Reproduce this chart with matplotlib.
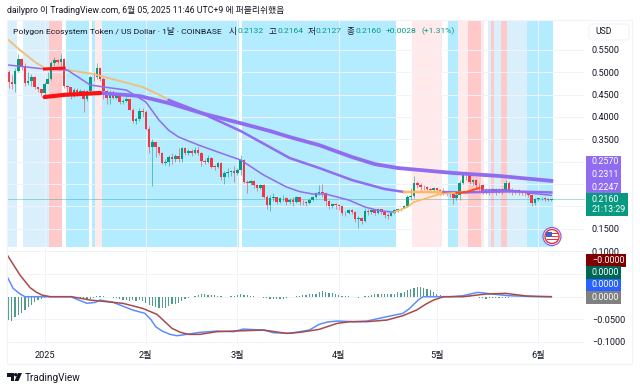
"""POL / USD daily chart with moving averages and a MACD pane."""
import matplotlib
matplotlib.use("Agg")
import matplotlib.pyplot as plt
import numpy as np
from matplotlib.patches import Circle, FancyBboxPatch, Polygon, Rectangle

FONT = ["Roboto", "Noto Sans CJK KR", "DejaVu Sans"]
plt.rcParams["font.family"] = FONT

FIRST_DAY = -11  # days relative to 2025-01-01
FIRST_OPEN = 0.501

closes = [
    .478, .473, .503, .530, .515, .477, .481, .490, .466, .463,
    .453, .474, .486, .520, .527, .524, .529, .470, .466, .451,
    .461, .456, .459, .440, .457, .490, .489, .509, .486, .457,
    .442, .455, .443, .449, .433, .436, .440, .416, .391, .395,
    .414, .410, .374, .333, .345, .333, .320, .298, .300, .310,
    .305, .313, .306, .331, .319, .324, .319, .326, .320, .302,
    .300, .309, .289, .288, .298, .266, .274, .277, .278, .274,
    .281, .304, .255, .253, .257, .248, .240, .2475, .220, .203,
    .218, .221, .210, .218, .219, .210, .2135, .210, .220, .210,
    .209, .207, .214, .220, .229, .231, .230, .213, .201, .205,
    .202, .200, .185, .184, .192, .188, .171, .173, .167, .190,
    .187, .192, .184, .193, .188, .181, .179, .185, .192, .193,
    .194, .201, .222, .224, .252, .248, .244, .2425, .238, .236,
    .240, .236, .233, .232, .230, .2285, .218, .226, .252, .271,
    .273, .255, .258, .248, .2475, .233, .236, .231, .238, .233,
    .238, .234, .2515, .236, .233, .236, .231, .230, .229, .226,
    .207, .216, .218, .2195, .216, .2132, .2160,
]
highs = [
    .505, .495, .510, .542, .533, .520, .500, .497, .492, .468,
    .462, .478, .500, .525, .535, .530, .540, .533, .472, .468,
    .465, .465, .462, .462, .460, .495, .500, .520, .512, .490,
    .460, .460, .460, .453, .450, .440, .445, .440, .420, .400,
    .420, .420, .415, .380, .350, .345, .328, .322, .305, .315,
    .320, .318, .330, .333, .333, .328, .328, .332, .335, .322,
    .305, .314, .310, .292, .300, .300, .278, .285, .282, .290,
    .285, .315, .306, .260, .260, .258, .250, .250, .250, .225,
    .225, .230, .222, .222, .225, .220, .218, .220, .223, .222,
    .214, .213, .218, .224, .232, .248, .250, .232, .215, .208,
    .208, .206, .200, .190, .195, .194, .189, .178, .176, .197,
    .193, .195, .195, .196, .195, .189, .184, .188, .194, .196,
    .197, .204, .226, .240, .268, .256, .252, .248, .246, .242,
    .244, .242, .238, .240, .235, .234, .232, .234, .260, .276,
    .278, .276, .262, .262, .252, .248, .240, .240, .242, .240,
    .242, .240, .258, .256, .240, .238, .238, .234, .232, .230,
    .228, .218, .220, .222, .222, .219, .2164,
]
lows = [
    .465, .462, .455, .500, .505, .470, .472, .470, .463, .455,
    .447, .445, .475, .482, .515, .518, .515, .465, .448, .440,
    .445, .448, .450, .412, .435, .455, .480, .485, .480, .440,
    .430, .430, .440, .440, .430, .430, .434, .415, .386, .385,
    .390, .400, .370, .320, .246, .310, .315, .295, .292, .290,
    .295, .300, .300, .300, .315, .316, .312, .318, .315, .290,
    .295, .298, .285, .282, .285, .260, .250, .265, .268, .255,
    .270, .270, .253, .230, .248, .240, .235, .238, .218, .195,
    .190, .212, .205, .208, .212, .204, .206, .200, .207, .202,
    .204, .200, .205, .212, .218, .225, .222, .200, .195, .196,
    .195, .192, .180, .178, .183, .182, .165, .152, .160, .165,
    .180, .183, .180, .183, .183, .175, .172, .178, .183, .187,
    .190, .196, .198, .215, .218, .240, .236, .236, .232, .230,
    .232, .228, .226, .226, .224, .222, .205, .214, .215, .250,
    .258, .250, .248, .240, .235, .228, .228, .225, .230, .226,
    .230, .228, .232, .230, .226, .228, .226, .225, .224, .220,
    .200, .203, .212, .214, .213, .212, .2127,
]
macd_hist = [
    -.0516, -.054, -.0442, -.0398, -.0368, -.0295, -.0236, -.0177, -.0118, -.008,
    -.0052, -.003, -.0015, -.0005, -.0005, -.0005, -.0005, -.0005, -.0005, -.0005,
    -.001, -.002, -.004, -.006, -.007, -.005, -.002, .001, .002, .001,
    .0003, -.001, -.002, -.003, -.005, -.0065, -.008, -.009, -.008, -.009,
    -.008, -.010, -.014, -.018, -.021, -.023, -.025, -.024, -.024, -.021,
    -.016, -.016, -.013, -.009, -.006, -.003, -.001, .002, .004, .005,
    .005, .004, .004, .003, .002, .001, .0003, -.001, .001, .002,
    .004, .005, .004, .003, .002, .001, .0003, -.001, -.002, -.003,
    -.005, -.006, -.006, -.005, -.004, -.003, -.001, .0003, .001, .002,
    .003, .004, .005, .006, .007, .011, .012, .011, .009, .008,
    .006, .004, .002, .001, .0005, -.0005, -.001, -.002, -.001, .001,
    .002, .004, .005, .005, .005, .005, .005, .006, .007, .010,
    .008, .010, .014, .018, .020, .021, .021, .020, .018, .014,
    .011, .007, .004, .001, .0005, .0005, .001, .002, .002, .003,
    .002, .001, -.0005, -.001, -.002, -.003, -.004, -.003, -.003, -.002,
    -.002, -.003, -.002, -.002, -.001, -.001, -.001, -.001, -.0005, -.0005,
    -.0005, -.0005, -.0003, -.0003, -.0003, -.0002, -.0002,
]

long_red_days = [0, 6, 17]
long_red = [.4446, .4495, .4536]
long_days = [17, 29, 38, 49, 60, 69, 75, 84, 94, 101, 108, 125, 139, 155]
long_ma = [.4536, .447, .431, .4066, .386, .3685, .355, .337, .3104, .2945, .2858, .2746, .268, .2570]

mid_tan_days = [-11, -7.5, -3, 0, 7, 15, 30, 35, 38]
mid_tan = [.572, .5498, .5235, .5095, .505, .496, .467, .450, .438]
mid_days = [38, 46, 60, 75, 84, 94, 104, 110]
mid_ma = [.438, .4155, .3685, .308, .2858, .2589, .2388, .2321]
mid_orange_days = [110, 122]
mid_orange = [.2321, .232]
mid_end_days = [122, 128, 142, 155]
mid_end = [.232, .231, .2335, .2311]

fast_days = [-11, 0, 7, 14, 20, 25, 31, 35, 38, 41, 47, 53, 60, 67, 74, 78, 82, 86, 93, 98, 102, 106, 107]
fast_ma = [.5162, .5073, .505, .4715, .4652, .4604, .4334, .3932, .3700, .3552, .3375, .3216, .3037,
           .2701, .2433, .2330, .2276, .2276, .2142, .1985, .1910, .1873, .1873]
fast_red_days = [0, 6]
fast_red = [.5073, .5095]
fast_orange_days = [107, 111, 113, 118, 121, 125, 128]
fast_orange = [.1873, .1985, .2097, .2209, .2276, .2299, .2321]
fast_red2_days = [126, 129, 133]
fast_red2 = [.2299, .2321, .2411]
fast_end_days = [134, 142, 148, 155]
fast_end = [.2366, .2366, .2299, .2247]

macd_days = [-11.4, -9.6, -7.5, -6, 8, 10.5, 13, 15.5, 17, 21, 27, 30.7, 32.5, 34, 36, 38.4,
             40.5, 43.5, 47.5, 52.7, 57.8, 60.8, 64, 67, 70, 75, 81, 84, 86.5, 89.5, 94.4,
             98.6, 104.7, 109.6, 111.5, 112.7, 114.5, 115.8, 124, 128, 130.5, 132.6, 137, 142,
             150.5, 155]
macd_line = [.0442, .0184, .0062, 0, 0, -.0075, -.0147, -.0125, -.0074, -.0125, -.0295, -.0368,
             -.0500, -.0663, -.0760, -.0832, -.0862, -.0832, -.0788, -.0759, -.0773, -.0715,
             -.0728, -.0737, -.0796, -.081, -.0737, -.0611, -.0560, -.0538, -.0552, -.0538,
             -.0442, -.0368, -.0270, -.0184, -.0060, 0, 0, .0022, .0065, .0096, .0059, .0022,
             0, 0]
signal_days = [-11.4, -7.5, -4.4, -2.5, -.8, 1.7, 8.3, 14, 24, 30, 34.4, 39, 41.5, 44, 47.5, 52.7,
               57.8, 67, 74, 78, 84, 89.5, 93.4, 98.6, 104.7, 109.6, 113.8, 116.5, 119, 122, 128,
               135, 141, 147.5, 155]
signal_line = [.0921, .0479, .0199, .0100, .0037, 0, 0, -.0074, -.0147, -.0258, -.039, -.07, -.0785,
               -.0832, -.0832, -.0773, -.0759, -.0737, -.081, -.0788, -.0722, -.0589, -.0552,
               -.0552, -.0516, -.042, -.0295, -.0170, -.0074, 0, 0, .0059, .0074, .0015, 0]

SKY, PALE, PINK, RED_BAND = "#b3ebff", "#d9effc", "#ffe9eb", "#ffc9c9"
bands = [
    (-11.5, -8.5, PALE), (-6.5, 1.5, PALE), (1.5, 5.5, RED_BAND), (6.5, 13.5, SKY),
    (14.5, 15.5, SKY), (15.5, 17.5, PINK), (17.5, 59.5, SKY), (60.5, 107.5, SKY),
    (112.5, 121.5, PINK), (123.5, 126.5, SKY), (126.5, 129.5, PINK), (129.5, 133.5, RED_BAND),
    (133.5, 134.5, PINK), (135.5, 136.5, PALE), (136.5, 137.5, RED_BAND), (137.5, 139.5, PALE),
    (139.5, 141.5, RED_BAND), (141.5, 147.5, PALE), (147.5, 155.5, SKY),
]

price_ticks = [.55, .50, .45, .40, .35, .30, .25, .20, .15]
price_labels = ["0.5500", "0.5000", "0.4500", "0.4000", "0.3500", "", "", "", "0.1500"]
macd_ticks = [.10, .05, 0, -.05, -.10]
macd_labels = ["0.1000", "", "", "−0.0500", "−0.1000"]
month_days = [0, 31, 59, 90, 120, 151]
month_labels = ["2025", "2월", "3월", "4월", "5월", "6월"]
UP, DOWN = "#089981", "#f23645"
TEXT = "#131722"
W, H = 640, 390


def px_axes(fig, left, top, right, bottom):
    return fig.add_axes([left / W, 1 - bottom / H, (right - left) / W, (bottom - top) / H])


def main():
    fig = plt.figure(figsize=(6.4, 3.9), dpi=100)
    ax = px_axes(fig, 7, 20, 585, 247)
    ax2 = px_axes(fig, 7, 248, 585, 344)

    for a in (ax, ax2):
        a.set_xlim(-11.47, 165.3)
        a.set_xticks(month_days)
        a.grid(color="#f0f3fa", lw=0.7)
        a.set_axisbelow(True)
        a.tick_params(length=0, labelsize=6.6, colors=TEXT)
        a.yaxis.tick_right()
        for s in a.spines.values():
            s.set_visible(False)

    # price pane
    ax.set_ylim(0.1090, 0.6170)
    ax.set_yticks(price_ticks)
    ax.set_yticklabels(price_labels)
    ax.tick_params(axis="y", pad=5)
    ax.set_xticklabels([])
    for start, end, color in bands:
        ax.axvspan(start, end, color=color, lw=0, zorder=0.5)

    c = np.array(closes)
    o = np.r_[FIRST_OPEN, c[:-1]]
    days = np.arange(FIRST_DAY, FIRST_DAY + len(c))
    colors = np.where(c >= o, UP, DOWN)
    ax.vlines(days, lows, highs, colors=colors, lw=0.7, alpha=0.55, zorder=2)
    ax.bar(days, np.abs(c - o).clip(0.0012), bottom=np.minimum(o, c), width=0.78,
           color=colors, lw=0, zorder=3)
    ax.axhline(closes[-1], color=UP, lw=0.7, alpha=0.35, zorder=2)

    purple, tan, orange, red = "#8f6cf0", "#ecc27e", "#ffb85c", "#ff1010"
    ax.plot(long_days, long_ma, color=purple, lw=2.7, zorder=4)
    ax.plot(long_red_days, long_red, color=red, lw=3.0, zorder=4, solid_capstyle="round")
    ax.plot(mid_tan_days, mid_tan, color=tan, lw=1.4, zorder=4)
    ax.plot(mid_days, mid_ma, color=purple, lw=1.8, zorder=4)
    ax.plot(mid_orange_days, mid_orange, color=orange, lw=1.8, zorder=4)
    ax.plot(mid_end_days, mid_end, color=purple, lw=1.8, zorder=4)
    ax.plot(fast_days, fast_ma, color=purple, lw=1.1, zorder=4)
    ax.plot(fast_red_days, fast_red, color=red, lw=2.2, zorder=4)
    ax.plot(fast_orange_days, fast_orange, color=orange, lw=1.2, zorder=4)
    ax.plot(fast_red2_days, fast_red2, color="#ff4a10", lw=1.5, zorder=4)
    ax.plot(fast_end_days, fast_end, color=purple, lw=1.1, zorder=4)

    # macd pane
    ax2.set_ylim(-0.1045, 0.1076)
    ax2.set_yticks(macd_ticks)
    ax2.set_yticklabels(macd_labels)
    ax2.tick_params(axis="y", pad=5)
    ax2.set_xticklabels(month_labels)
    ax2.tick_params(axis="x", pad=5)
    ax2.bar(days, macd_hist, width=0.38, color="#4f9c8b", lw=0, zorder=2)
    ax2.plot(macd_days, macd_line, color="#5c8dff", lw=1.1, zorder=3)
    ax2.plot(signal_days, signal_line, color="#a84a4a", lw=1.1, zorder=4)

    # overlay in pixel coordinates for the title, tags and logo
    ov = fig.add_axes([0, 0, 1, 1], zorder=10)
    ov.set_xlim(0, W)
    ov.set_ylim(H, 0)
    ov.axis("off")
    ov.patch.set_alpha(0)
    ov.add_patch(Rectangle((7, 20), 625, 344, fc="none", ec="#f0f3fa", lw=0.8))

    ov.text(7, 10.5, "dailypro 이 TradingView.com, 6월 05, 2025 11:46 UTC+9 에 퍼블리쉬했음",
            fontsize=6.35, color=TEXT, va="center")
    ov.text(13, 31, "Polygon Ecosystem Token / US Dollar · 1날 · COINBASE", fontsize=6.1,
            color=TEXT, va="center")
    for x, label in [(229, "시"), (269, "고"), (308, "저"), (347, "종")]:
        ov.text(x, 31, label, fontsize=6.1, color=TEXT, va="center")
    for x, label in [(237, "0.2132"), (277, "0.2164"), (316, "0.2127"), (355, "0.2160"),
                     (386, "+0.0028"), (421, "(+1.31%)")]:
        ov.text(x, 31, label, fontsize=6.1, color=UP, va="center")

    ov.add_patch(FancyBboxPatch((589, 24), 40, 16, boxstyle="round,pad=0,rounding_size=3",
                                fc="white", ec="#f0f3fa", lw=0.8))
    ov.text(595, 32, "USD", fontsize=6.2, color=TEXT, va="center")

    ov.add_patch(Rectangle((585.7, 156), 35.3, 37, fc="#8f6cf0", ec="none"))
    ov.add_patch(Rectangle((585.7, 193), 42.3, 23, fc=UP, ec="none"))
    for y, label in [(162, "0.2570"), (174.5, "0.2311"), (187, "0.2247"), (199, "0.2160"),
                     (209.5, "21:13:29")]:
        ov.text(592, y, label, fontsize=6.4, color="white", va="center")

    tags = [(254, 40, "#7f0000", "−0.0000"), (266, 35.3, "#006654", "0.0000"),
            (278.5, 35.3, "#2962ff", "0.0000"), (291, 35.3, "#808080", "0.0000")]
    for y, width, color, label in tags:
        ov.add_patch(Rectangle((585.7, y), width, 12.5, fc=color, ec="none"))
        ov.text(592, y + 6.3, label, fontsize=6.4, color="white", va="center")

    # US flag badge
    ov.add_patch(Circle((552, 236.5), 9, fc="white", ec="#8f5fd8", lw=0.9))
    ov.add_patch(Circle((552, 236.5), 7, fc="white", ec="#e8303a", lw=1.0))
    for y in (233, 236, 239):
        ov.add_patch(Rectangle((546.5, y), 11, 1.4, fc="#e8303a", ec="none"))
    ov.add_patch(Rectangle((546, 232), 5.5, 5, fc="#3a63c8", ec="none"))

    # logo
    ov.add_patch(Polygon([(7, 373), (14, 373), (14, 381), (10.5, 381), (10.5, 376.5), (7, 376.5)],
                         fc=TEXT, ec="none"))
    ov.add_patch(Circle((15.7, 374.7), 1.7, fc=TEXT, ec="none"))
    ov.add_patch(Polygon([(18, 373), (22, 373), (18.5, 381), (14.5, 381)], fc=TEXT, ec="none"))
    ov.text(24.5, 378, "TradingView", fontsize=7.2, color=TEXT, va="center")

    fig.savefig("out.png", dpi=100)
    plt.close(fig)


if __name__ == "__main__":
    main()
